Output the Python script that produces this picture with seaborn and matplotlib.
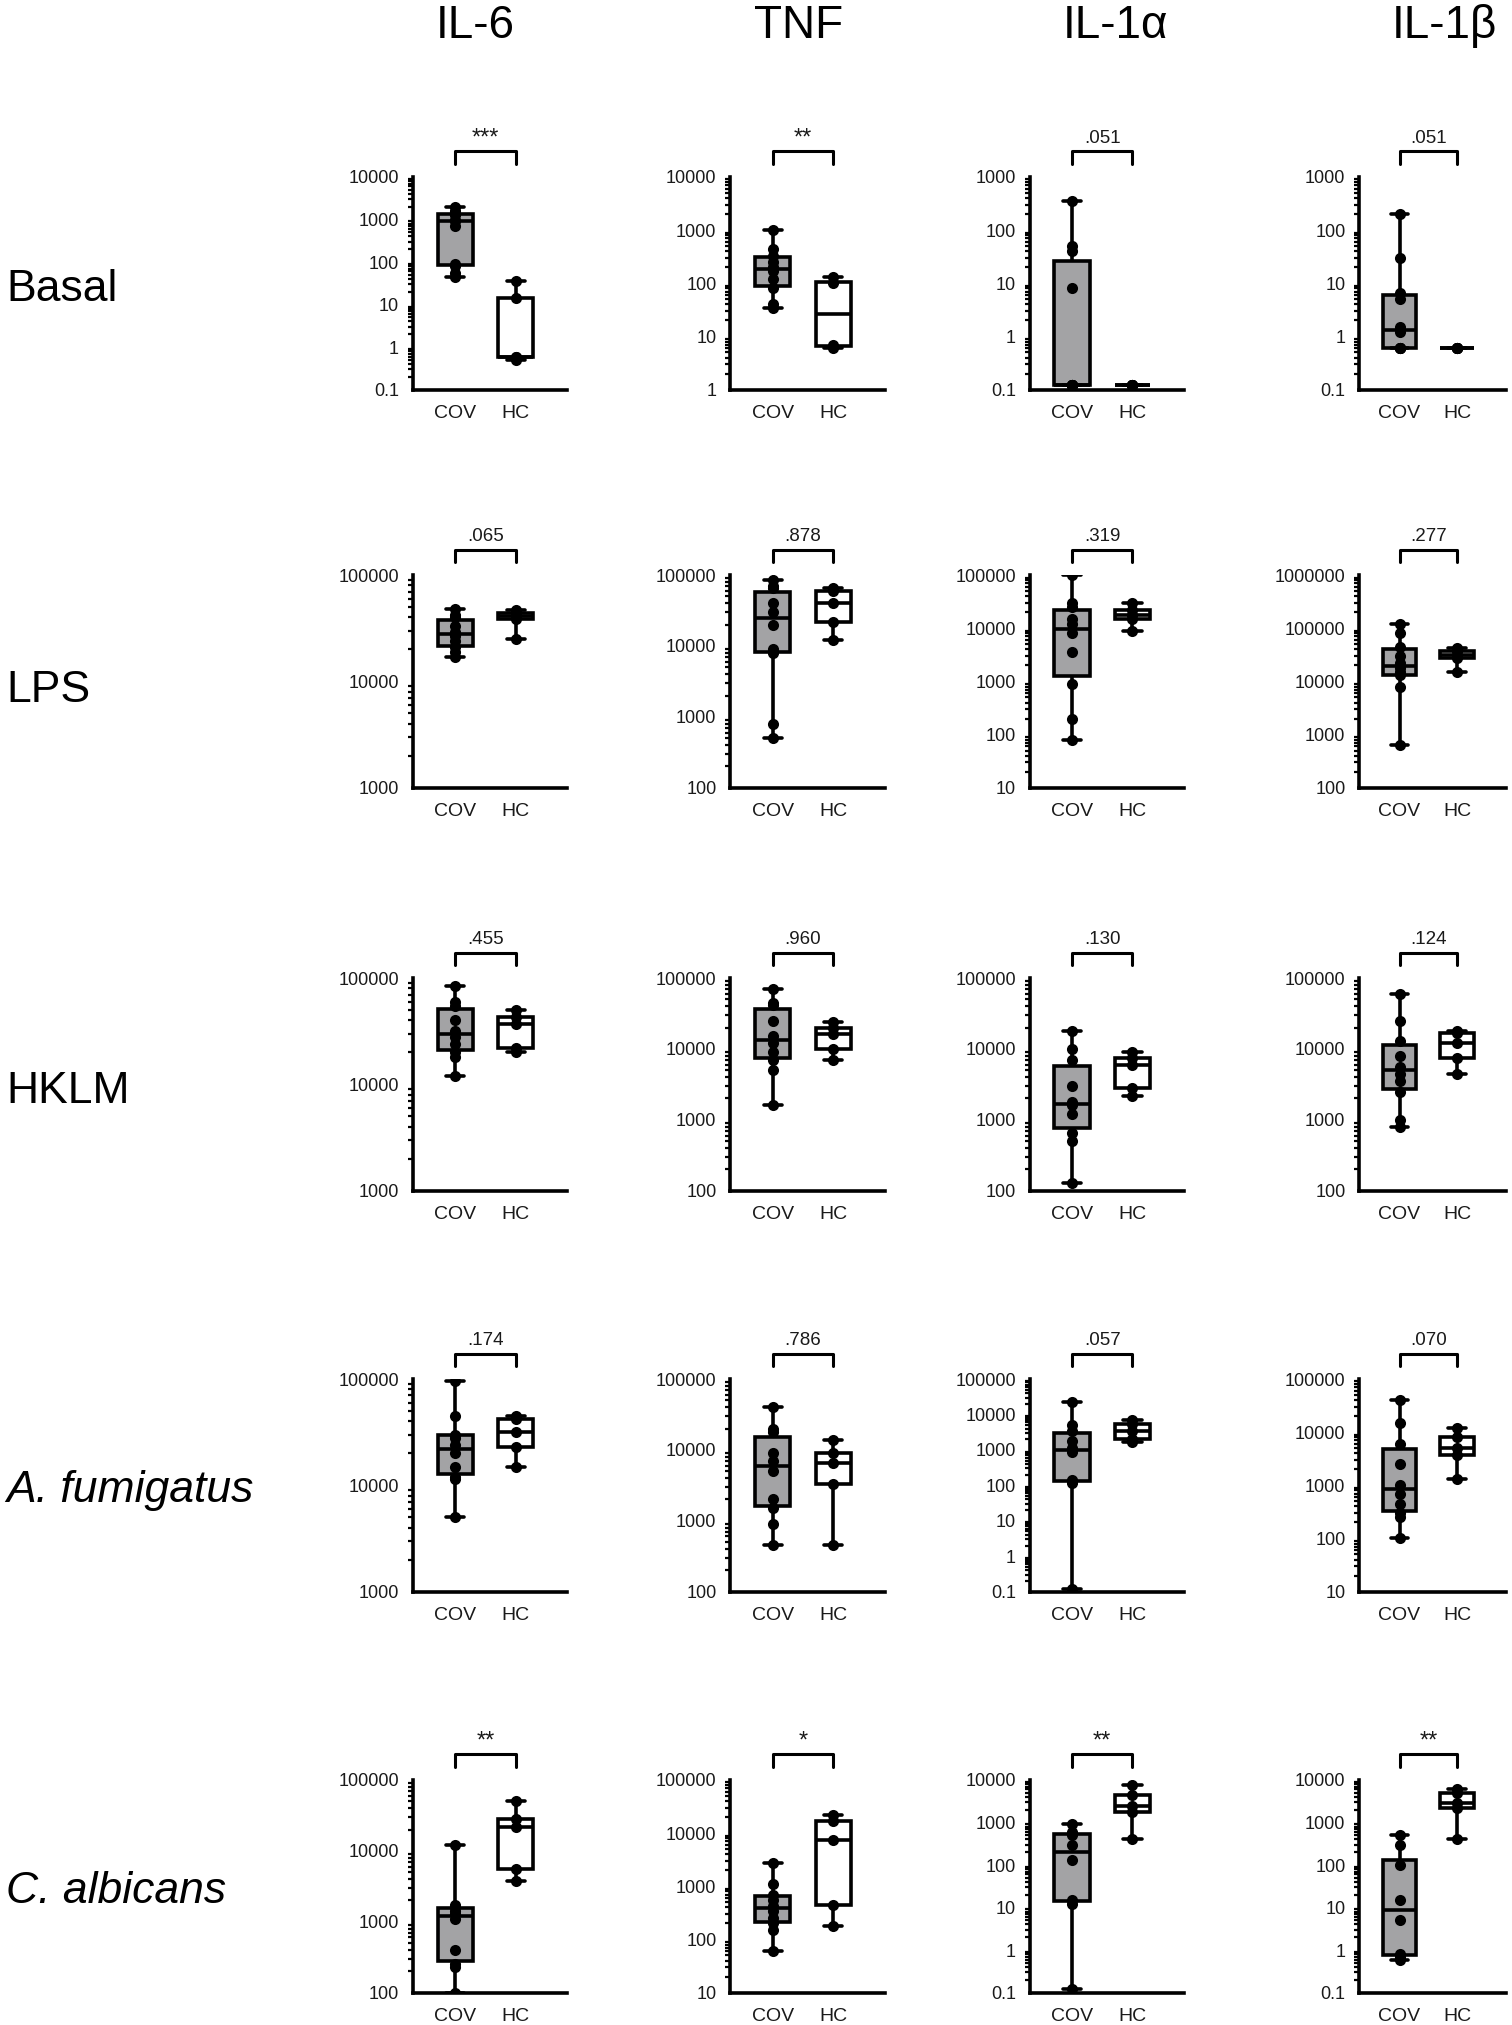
import numpy as np
import pandas as pd
import matplotlib
matplotlib.use("Agg")
import matplotlib.pyplot as plt
import matplotlib.ticker as mticker
import seaborn as sns

sns.set_theme(style="white")
plt.rcParams['font.family'] = ['Liberation Sans', 'DejaVu Sans']

cytokines = ["IL-6", "TNF", "IL-1\u03b1", "IL-1\u03b2"]
stimuli = ["Basal", "LPS", "HKLM", "A. fumigatus", "C. albicans"]
italic_stimuli = ["A. fumigatus", "C. albicans"]
groups = ["COV", "HC"]

# ---- values (pg/ml) ----
basal_il6_cov = [45, 55, 80, 90, 700, 900, 1000, 1300, 1400, 1600, 2000]
basal_il6_hc = [0.5, 0.6, 0.6, 14, 35]
basal_tnf_cov = [35, 40, 80, 120, 170, 200, 250, 330, 450, 1000]
basal_tnf_hc = [6, 7, 100, 130]
basal_il1a_cov = [0.12, 0.12, 0.12, 0.12, 0.12, 0.12, 8, 40, 50, 350]
basal_il1a_hc = [0.12, 0.12, 0.12, 0.12, 0.12]
basal_il1b_cov = [0.6, 0.6, 0.6, 0.6, 1.2, 1.5, 5, 6.5, 30, 200]
basal_il1b_hc = [0.6, 0.6, 0.6, 0.6, 0.6]

lps_il6_cov = [17000, 19000, 21000, 24000, 27000, 29000, 33000, 40000, 42000, 48000]
lps_il6_hc = [25000, 39000, 41000, 44000, 47000]
lps_tnf_cov = [500, 800, 8000, 9000, 20000, 30000, 40000, 65000, 70000, 85000]
lps_tnf_hc = [12000, 22000, 40000, 60000, 65000]
lps_il1a_cov = [80, 200, 900, 3500, 8000, 12000, 15000, 25000, 30000, 100000]
lps_il1a_hc = [9000, 15000, 18000, 22000, 30000]
lps_il1b_cov = [650, 8000, 13000, 15000, 18000, 22000, 30000, 45000, 80000, 120000]
lps_il1b_hc = [15000, 28000, 32000, 37000, 42000]

hklm_il6_cov = [12000, 18000, 20000, 24000, 28000, 32000, 40000, 55000, 60000, 85000]
hklm_il6_hc = [20000, 22000, 37000, 43000, 50000]
hklm_tnf_cov = [1600, 5000, 7000, 9000, 12000, 15000, 25000, 42000, 45000, 70000]
hklm_tnf_hc = [7000, 10000, 16000, 20000, 24000]
hklm_il1a_cov = [130, 500, 650, 1200, 1600, 1800, 3000, 7000, 10000, 18000]
hklm_il1a_hc = [2200, 2800, 6000, 7500, 9000]
hklm_il1b_cov = [800, 1000, 2500, 3500, 4500, 5500, 8000, 13000, 25000, 60000]
hklm_il1b_hc = [4500, 7500, 12000, 17000, 18000]

afum_il6_cov = [5000, 11500, 12000, 15000, 20000, 24000, 28000, 30000, 45000, 95000]
afum_il6_hc = [15000, 23000, 32000, 42000, 45000]
afum_tnf_cov = [450, 900, 1500, 2000, 5000, 7000, 9000, 18000, 20000, 40000]
afum_tnf_hc = [450, 3300, 6500, 9000, 14000]
afum_il1a_cov = [0.12, 120, 130, 140, 900, 1100, 1800, 3500, 5000, 22000]
afum_il1a_hc = [1700, 2000, 3500, 5500, 7000]
afum_il1b_cov = [100, 250, 300, 450, 700, 1000, 2500, 6000, 15000, 40000]
afum_il1b_hc = [1300, 3800, 5000, 8000, 12000]

calb_il6_cov = [100, 230, 250, 400, 1100, 1300, 1400, 1600, 1700, 12000]
calb_il6_hc = [3800, 5500, 22000, 28000, 50000]
calb_tnf_cov = [60, 150, 200, 250, 350, 420, 550, 700, 1100, 2800]
calb_tnf_hc = [180, 450, 7500, 17000, 22000]
calb_il1a_cov = [0.12, 12, 15, 130, 300, 500, 600, 900]
calb_il1a_hc = [400, 1800, 2500, 4500, 7500]
calb_il1b_cov = [0.6, 0.7, 0.8, 5, 15, 100, 300, 500]
calb_il1b_hc = [400, 2200, 2800, 5000, 6000]

panel_values = [
    [(basal_il6_cov, basal_il6_hc), (basal_tnf_cov, basal_tnf_hc),
     (basal_il1a_cov, basal_il1a_hc), (basal_il1b_cov, basal_il1b_hc)],
    [(lps_il6_cov, lps_il6_hc), (lps_tnf_cov, lps_tnf_hc),
     (lps_il1a_cov, lps_il1a_hc), (lps_il1b_cov, lps_il1b_hc)],
    [(hklm_il6_cov, hklm_il6_hc), (hklm_tnf_cov, hklm_tnf_hc),
     (hklm_il1a_cov, hklm_il1a_hc), (hklm_il1b_cov, hklm_il1b_hc)],
    [(afum_il6_cov, afum_il6_hc), (afum_tnf_cov, afum_tnf_hc),
     (afum_il1a_cov, afum_il1a_hc), (afum_il1b_cov, afum_il1b_hc)],
    [(calb_il6_cov, calb_il6_hc), (calb_tnf_cov, calb_tnf_hc),
     (calb_il1a_cov, calb_il1a_hc), (calb_il1b_cov, calb_il1b_hc)],
]

# y-axis ranges (decade exponents)
y_ranges = [
    [(-1, 4), (0, 4), (-1, 3), (-1, 3)],
    [(3, 5), (2, 5), (1, 5), (2, 6)],
    [(3, 5), (2, 5), (2, 5), (2, 5)],
    [(3, 5), (2, 5), (-1, 5), (1, 5)],
    [(2, 5), (1, 5), (-1, 4), (-1, 4)],
]

p_labels = [
    ["***", "**", ".051", ".051"],
    [".065", ".878", ".319", ".277"],
    [".455", ".960", ".130", ".124"],
    [".174", ".786", ".057", ".070"],
    ["**", "*", "**", "**"],
]

# ---- layout ----
fig = plt.figure(figsize=(15.12, 20.25), dpi=100)
col_left = [0.273, 0.483, 0.681, 0.899]
col_width = [0.102, 0.102, 0.102, 0.097]
row_bottom = [0.8076, 0.611, 0.412, 0.214, 0.016]
ax_h = 0.105
title_x = [0.314, 0.528, 0.738, 0.955]
label_y = [0.857, 0.659, 0.461, 0.264, 0.066]

gray = "#a2a2a6"
pal = {"COV": gray, "HC": "white"}

def fmt(v, pos):
    if v >= 1:
        return "%d" % int(round(v))
    return ("%g" % v)

for r in range(5):
    for c in range(4):
        cov, hc = panel_values[r][c]
        df = pd.DataFrame({
            "group": ["COV"] * len(cov) + ["HC"] * len(hc),
            "value": list(cov) + list(hc),
        })
        ax = fig.add_axes([col_left[c], row_bottom[r], col_width[c], ax_h])
        sns.boxplot(data=df, x="group", y="value", hue="group", order=groups,
                    hue_order=groups, palette=pal, legend=False, log_scale=True,
                    whis=(0, 100), width=0.58, linewidth=2.6, linecolor="black",
                    fliersize=0, capwidths=0.3,
                    medianprops=dict(color="black", linewidth=2.6), ax=ax)
        sns.stripplot(data=df, x="group", y="value", order=groups, color="black",
                      jitter=False, size=8, zorder=5, ax=ax)
        lo, hi = y_ranges[r][c]
        ax.set_ylim(10.0 ** lo, 10.0 ** hi)
        ax.set_xlim(-0.7, 1.85)
        ax.yaxis.set_major_locator(mticker.FixedLocator([10.0 ** e for e in range(lo, hi + 1)]))
        ax.yaxis.set_minor_locator(mticker.LogLocator(base=10, subs=np.arange(2, 10), numticks=50))
        ax.yaxis.set_major_formatter(mticker.FuncFormatter(fmt))
        ax.yaxis.set_minor_formatter(mticker.NullFormatter())
        ax.set_xlabel("")
        ax.set_ylabel("")
        for side in ["top", "right"]:
            ax.spines[side].set_visible(False)
        for side in ["left", "bottom"]:
            ax.spines[side].set_linewidth(2.6)
            ax.spines[side].set_color("black")
        ax.tick_params(axis="both", which="major", direction="out", length=7,
                       width=2.2, color="black", labelsize=13, labelcolor="#1a1a1a", pad=3)
        ax.tick_params(axis="y", which="minor", direction="out", length=3.5,
                       width=1.6, color="black", left=True)
        ax.tick_params(axis="x", which="major", labelsize=14, pad=4)
        # significance bracket
        tr = ax.get_xaxis_transform()
        ax.plot([0, 0, 1, 1], [1.06, 1.12, 1.12, 1.06], color="black", lw=2.2,
                transform=tr, clip_on=False)
        lab = p_labels[r][c]
        is_star = lab.startswith("*")
        ax.text(0.5, 1.13 if is_star else 1.14, lab, transform=tr, ha="center", va="bottom",
                fontsize=17 if is_star else 13.5, color="#1a1a1a")

for c, name in enumerate(cytokines):
    fig.text(title_x[c], 0.987, name, ha="center", va="center", fontsize=33, color="black")

for r, name in enumerate(stimuli):
    fig.text(0.004, label_y[r], name, ha="left", va="center", fontsize=32, color="black",
             style="italic" if name in italic_stimuli else "normal")

fig.savefig("out.png", dpi=100)
